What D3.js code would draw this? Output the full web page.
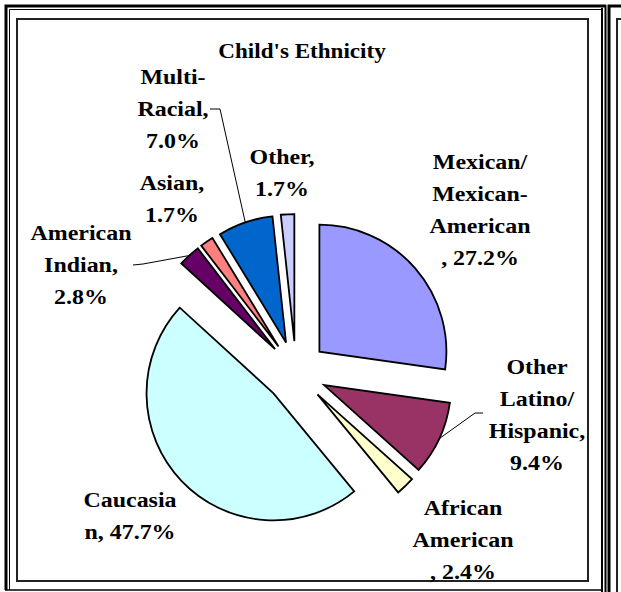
<!DOCTYPE html>
<html>
<head>
<meta charset="utf-8">
<script src="https://cdn.jsdelivr.net/npm/d3@7"></script>
<style>
  html, body { margin: 0; padding: 0; background: #fff; }
  svg { display: block; }
</style>
</head>
<body>
<svg id="chart" width="621" height="592"></svg>
<script>
// Child's Ethnicity — exploded pie, Excel-style, slices clockwise from 12 o'clock.

const categories = [
  "Mexican/Mexican-American",
  "Other Latino/Hispanic",
  "African American",
  "Caucasian",
  "American Indian",
  "Asian",
  "Multi-Racial",
  "Other"
];
const shares = [27.2, 9.4, 2.4, 47.7, 2.8, 1.7, 7.0, 1.7];
const sliceColors = ["#9999ff", "#993366", "#ffffcc", "#ccffff", "#660066", "#ff8080", "#0066cc", "#ccccff"];

// label text lines; {p} becomes the share
const labelLines = [
  ["Mexican/", "Mexican-", "American", ", {p}"],
  ["Other", "Latino/", "Hispanic,", "{p}"],
  ["African", "American", ", {p}"],
  ["Caucasia", "n, {p}"],
  ["American", "Indian,", "{p}"],
  ["Asian,", "{p}"],
  ["Multi-", "Racial,", "{p}"],
  ["Other,", "{p}"]
];

// label placement (centre x, centre y of first line) and leader elbows
const labelPos = [
  [480, 162], [537, 367], [463, 508], [130, 500],
  [81, 233], [172, 183], [173, 77], [282, 157]
];
const leaders = {
  1: [[483, 413], [475, 413]],
  4: [[133, 265], [143, 264]],
  6: [[210, 109], [220, 109]]
};

function drawPie() {
  const svg = d3.select("#chart");

  // frames
  const frame = svg.append("g").attr("fill", "none").attr("stroke", "#000");
  frame.append("rect").attr("x", 17).attr("y", 19).attr("width", 571).attr("height", 562)
    .attr("stroke", "#222").attr("stroke-width", 2);
  frame.append("path").attr("d", "M6,590 V6 H606").attr("stroke-width", 3);
  frame.append("path").attr("d", "M9.5,590 V9.5 H601").attr("stroke-width", 1);
  frame.append("path").attr("d", "M5,590 H602").attr("stroke-width", 1.5);
  frame.append("line").attr("x1", 602).attr("x2", 602).attr("y1", 8).attr("y2", 592).attr("stroke-width", 2);
  frame.append("line").attr("x1", 605.5).attr("x2", 605.5).attr("y1", 5).attr("y2", 592).attr("stroke-width", 2);
  frame.append("path").attr("d", "M609,592 V6 H621").attr("stroke-width", 3);
  frame.append("path").attr("d", "M617,592 V19 H621").attr("stroke-width", 2).attr("stroke", "#222");

  const font = "'Liberation Serif', 'Times New Roman', serif";

  svg.append("text")
    .attr("transform", "translate(302,58) scale(1.1,1)")
    .attr("text-anchor", "middle")
    .attr("font-family", font)
    .attr("font-weight", "bold")
    .attr("font-size", 21)
    .text("Child's Ethnicity");

  const cx = 296, cy = 372, radius = 127, explode = 31;

  const data = categories.map((c, i) => ({ name: c, value: shares[i], i }));
  const pie = d3.pie().sort(null).value(d => d.value);
  const arcs = pie(data);
  const arc = d3.arc().innerRadius(0).outerRadius(radius);

  const offset = d => {
    const a = (d.startAngle + d.endAngle) / 2;
    return [explode * Math.sin(a), -explode * Math.cos(a)];
  };

  const g = svg.append("g").attr("transform", `translate(${cx},${cy})`);

  g.selectAll("path.slice")
    .data(arcs)
    .join("path")
    .attr("class", "slice")
    .attr("transform", d => `translate(${offset(d)})`)
    .attr("d", arc)
    .attr("fill", d => sliceColors[d.data.i])
    .attr("stroke", "#000")
    .attr("stroke-width", 1.8)
    .attr("stroke-linejoin", "miter");

  // leader lines: from label elbow to the slice's outer edge at mid-angle
  const line = d3.line();
  arcs.forEach(d => {
    const pts = leaders[d.data.i];
    if (!pts) return;
    const a = (d.startAngle + d.endAngle) / 2;
    const [ox, oy] = offset(d);
    const end = [cx + ox + radius * Math.sin(a), cy + oy - radius * Math.cos(a)];
    svg.append("path")
      .attr("d", line(pts.concat([end])))
      .attr("fill", "none")
      .attr("stroke", "#000")
      .attr("stroke-width", 1);
  });

  // labels
  data.forEach(d => {
    const [lx, ly] = labelPos[d.i];
    const pct = d.value.toFixed(1) + "%";
    const t = svg.append("text")
      .attr("transform", `translate(${lx},${ly + 7}) scale(1.14,1)`)
      .attr("text-anchor", "middle")
      .attr("font-family", font)
      .attr("font-weight", "bold")
      .attr("font-size", 21)
      .attr("fill", "#000");
    labelLines[d.i].forEach((s, k) => {
      t.append("tspan")
        .attr("x", 0)
        .attr("y", k * 32)
        .text(s.replace("{p}", pct));
    });
  });
}

drawPie();
</script>
</body>
</html>
